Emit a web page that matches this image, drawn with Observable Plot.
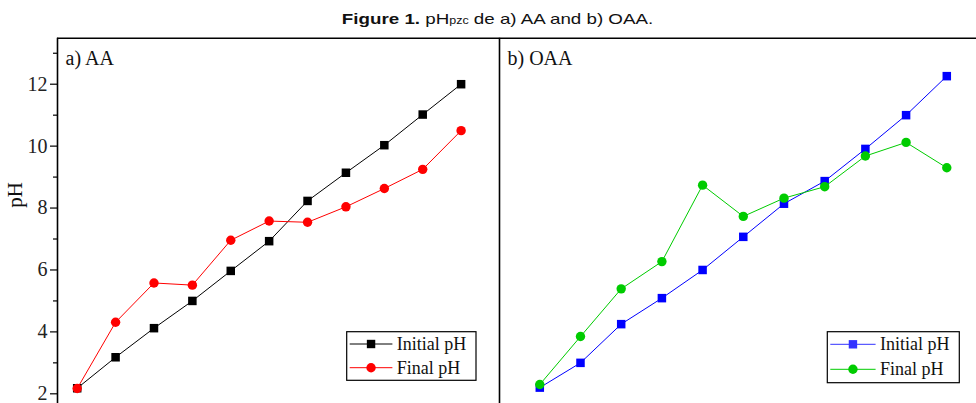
<!DOCTYPE html>
<html>
<head>
<meta charset="utf-8">
<script src="https://cdn.jsdelivr.net/npm/d3@7"></script>
<script src="https://cdn.jsdelivr.net/npm/@observablehq/plot@0.6"></script>
<style>
  html, body { margin: 0; padding: 0; background: #fff; }
  #wrap { position: relative; width: 976px; height: 403px; overflow: hidden; }
  #title { position: absolute; left: 10px; top: 0; width: 976px; height: 30px; text-align: center;
           font-family: "Liberation Sans", Arial, sans-serif; font-size: 15px; line-height: 15px; color: #111; padding-top: 11px; box-sizing: border-box; }
  #title .inner { display: inline-block; transform: scaleX(1.25); transform-origin: center; }
  #title .sub { font-size: 10px; }
  #left { position: absolute; left: 0; top: 30px; }
  #right { position: absolute; left: 499px; top: 30px; }
</style>
</head>
<body>
<div id="wrap">
  <div id="title"><span class="inner"><b>Figure 1.</b> pH<span class="sub">pzc</span> de a) AA and b) OAA.</span></div>
  <div id="left"></div>
  <div id="right"></div>
</div>
<script>
// ---- data ----
const sampleIndex = [0, 1, 2, 3, 4, 5, 6, 7, 8, 9, 10];
const aaInitial  = [2.18, 3.18, 4.12, 5.00, 5.97, 6.93, 8.23, 9.14, 10.03, 11.02, 12.00];
const aaFinal    = [2.17, 4.31, 5.58, 5.51, 6.96, 7.58, 7.54, 8.04, 8.63, 9.25, 10.50];
const oaaInitial = [2.20, 3.00, 4.25, 5.09, 6.00, 7.07, 8.14, 8.87, 9.91, 11.00, 12.26];
const oaaFinal   = [2.30, 3.85, 5.39, 6.27, 8.74, 7.73, 8.32, 8.69, 9.68, 10.12, 9.30];
const seriesNames = ["Initial pH", "Final pH"];
const panelLabels = ["a) AA", "b) OAA"];
const yMajorTicks = [2, 4, 6, 8, 10, 12];
const yMinorTicks = [3, 5, 7, 9, 11, 13];

const yDomain = [1.687, 13.486];
const H = 373;
const serif = "'Liberation Serif', 'Times New Roman', serif";

function rows(vals) { return sampleIndex.map((i) => ({i, v: vals[i]})); }

function panel({width, marginLeft, xDomain, initial, final, cInit, cFinal, label, showAxis, divider}) {
  const marks = [];
  if (showAxis) {
    marks.push(Plot.axisY({ticks: yMajorTicks, tickSize: 7, tickPadding: 3, fontSize: 20, label: null, stroke: "#000", strokeWidth: 1.2, fill: "#222"}));
    marks.push(Plot.axisY({ticks: yMinorTicks, tickSize: 4, text: null, label: null, stroke: "#000", strokeWidth: 1.2}));
    marks.push(Plot.text(["pH"], {frameAnchor: "left", rotate: -90, dx: -42, dy: -13, fontSize: 21, fill: "#111"}));
    marks.push(Plot.ruleX([xDomain[0]], {stroke: "#000", strokeWidth: 1.6}));
  }
  if (divider) marks.push(Plot.ruleX([xDomain[0]], {stroke: "#000", strokeWidth: 1.6}));
  marks.push(Plot.ruleY([yDomain[1]], {stroke: "#000", strokeWidth: 1.6}));
  marks.push(Plot.line(rows(initial), {x: "i", y: "v", stroke: cInit, strokeWidth: 1}));
  marks.push(Plot.dot(rows(initial), {x: "i", y: "v", symbol: "square", r: 4.8, fill: cInit, stroke: "none"}));
  marks.push(Plot.line(rows(final), {x: "i", y: "v", stroke: cFinal, strokeWidth: 1}));
  marks.push(Plot.dot(rows(final), {x: "i", y: "v", symbol: "circle", r: 4.7, fill: cFinal, stroke: "none"}));
  marks.push(Plot.text([label], {frameAnchor: "top-left", lineAnchor: "bottom", textAnchor: "start", dx: 8, dy: 26.6, fontSize: 20, fill: "#111"}));
  return Plot.plot({
    width, height: H,
    marginLeft, marginRight: 0, marginTop: 7.7, marginBottom: 0,
    x: {domain: xDomain, axis: null},
    y: {domain: yDomain, axis: null},
    style: {fontFamily: serif, overflow: "visible", background: "transparent"},
    marks
  });
}

function addLegend(svg, box, colors) {
  const g = d3.select(svg).append("g");
  g.append("rect").attr("x", box.x).attr("y", box.y).attr("width", box.w).attr("height", box.h)
    .attr("fill", "white").attr("stroke", "#000").attr("stroke-width", 1.2);
  seriesNames.forEach((name, k) => {
    const cy = box.y + box.row0 + k * box.rowGap;
    g.append("line").attr("x1", box.x + 3).attr("x2", box.x + 3 + box.lineLen).attr("y1", cy).attr("y2", cy)
      .attr("stroke", colors[k]).attr("stroke-width", 1);
    const mx = box.x + 3 + box.lineLen / 2;
    if (k === 0) g.append("rect").attr("x", mx - 4.2).attr("y", cy - 4.2).attr("width", 8.4).attr("height", 8.4).attr("fill", colors[k]);
    else g.append("circle").attr("cx", mx).attr("cy", cy).attr("r", 4.7).attr("fill", colors[k]);
    g.append("text").attr("x", box.x + box.textX).attr("y", cy + 6).text(name)
      .attr("text-anchor", "start")
      .attr("font-family", serif).attr("font-size", 18).attr("fill", "#111");
  });
}

const left = panel({width: 499, marginLeft: 57, xDomain: [-0.513, 11.0], initial: aaInitial, final: aaFinal,
  cInit: "#000000", cFinal: "#ff0000", label: panelLabels[0], showAxis: true, divider: false});
addLegend(left, {x: 346.7, y: 301.7, w: 129.3, h: 48.6, row0: 12.3, rowGap: 23.7, lineLen: 42.7, textX: 50}, ["#000000", "#ff0000"]);
document.getElementById("left").appendChild(left);

const right = panel({width: 477, marginLeft: 0, xDomain: [-0.99, 10.73], initial: oaaInitial, final: oaaFinal,
  cInit: "#0000ff", cFinal: "#00cc00", label: panelLabels[1], showAxis: false, divider: true});
addLegend(right, {x: 328.3, y: 301.7, w: 132, h: 51, row0: 12.6, rowGap: 25, lineLen: 45.3, textX: 52.7}, ["#3333ff", "#00cc00"]);
document.getElementById("right").appendChild(right);
</script>
</body>
</html>
